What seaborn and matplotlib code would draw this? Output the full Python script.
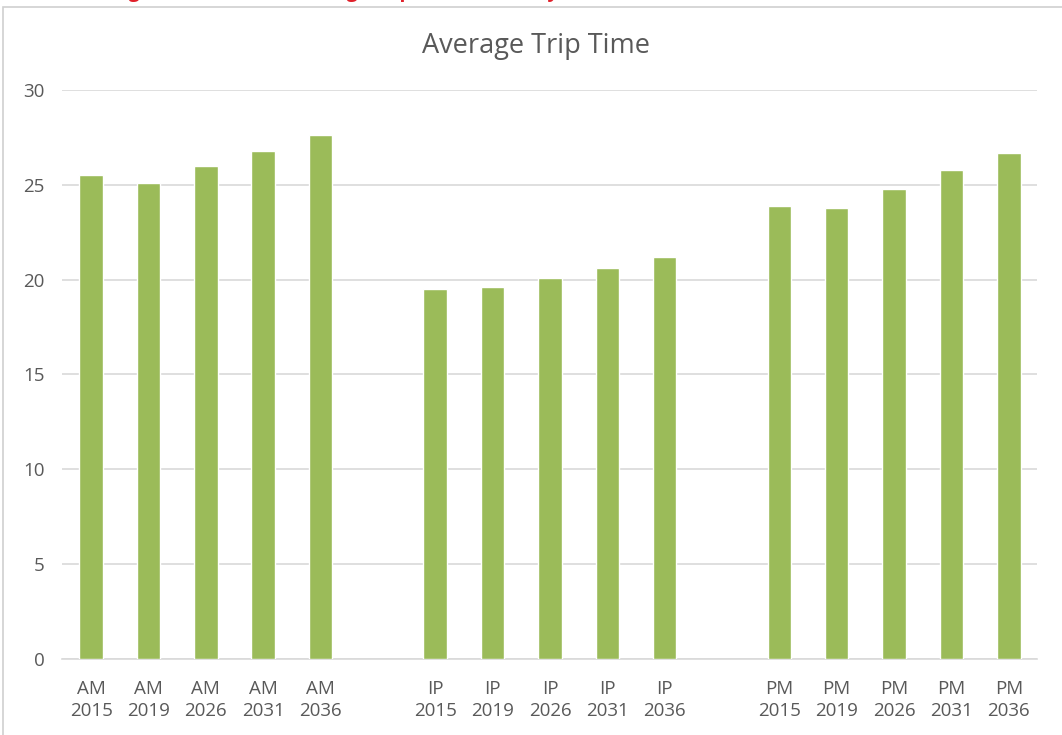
import pandas as pd
import matplotlib.pyplot as plt
import matplotlib.patches as patches
import seaborn as sns

# ================================
# DATA
# ================================
periods = ["AM", "IP", "PM"]
years = ["2015", "2019", "2026", "2031", "2036"]
am_times = [25.5, 25.1, 26.0, 26.8, 27.6]
ip_times = [19.5, 19.6, 20.1, 20.6, 21.2]
pm_times = [23.9, 23.8, 24.8, 25.8, 26.7]
y_ticks = [0, 5, 10, 15, 20, 25, 30]

labels = []
values = []
for p, vals in zip(periods, [am_times, ip_times, pm_times]):
    for y, v in zip(years, vals):
        labels.append(p + "\n" + y)
        values.append(v)
df = pd.DataFrame({"label": labels, "minutes": values})

# blank slot between periods
order = labels[0:5] + [" "] + labels[5:10] + ["  "] + labels[10:15]

# ================================
# PLOT
# ================================
sns.set_style("white")
plt.rcParams['font.family'] = ['Open Sans', 'DejaVu Sans']

fig = plt.figure(figsize=(10.62, 7.35), dpi=100)
ax = fig.add_axes([0.0588, 0.1034, 0.9181, 0.7742])

sns.barplot(data=df, x="label", y="minutes", order=order, color="#9BBB59",
            saturation=1, width=0.41, ax=ax, zorder=3)

ax.set_xlim(-0.5, len(order) - 0.5)
ax.set_ylim(0, 30)
ax.set_yticks(y_ticks)
ax.set_xlabel("")
ax.set_ylabel("")
ax.grid(axis="y", color="#D9D9D9", linewidth=1.2, zorder=0)
ax.set_axisbelow(True)
for s in ["top", "right", "left"]:
    ax.spines[s].set_visible(False)
ax.spines["bottom"].set_color("#D9D9D9")
ax.spines["bottom"].set_linewidth(1.2)
ax.tick_params(axis="both", length=0, labelsize=13.5, colors="#595959")
ax.tick_params(axis="y", pad=13)
ax.tick_params(axis="x", pad=15)
for t in ax.get_xticklabels():
    t.set_linespacing(1.3)

fig.text(0.505, 0.938, "Average Trip Time", ha="center", va="center",
         fontsize=19.5, color="#595959")

# cropped caption at the very top (only the lowest strip shows)
cap_y = 1 + 3.5 / 735
fig.text(112 / 1062, cap_y, "Figure 3-13:", ha="left", va="baseline",
         fontsize=14, fontweight="bold", color="#E0202A")
fig.text(290 / 1062, cap_y, "Average Trip Time (mins) by Period and Model Year",
         ha="left", va="baseline", fontsize=14, fontweight="bold", color="#E0202A")

# chart area border
fig.patches.append(patches.Rectangle((3 / 1062, -0.01), 1.1, 1 - 7 / 735 + 0.01,
                                     transform=fig.transFigure, fill=False,
                                     edgecolor="#D0D0D0", linewidth=1.2))

plt.savefig("out.png", dpi=100)
plt.close()
